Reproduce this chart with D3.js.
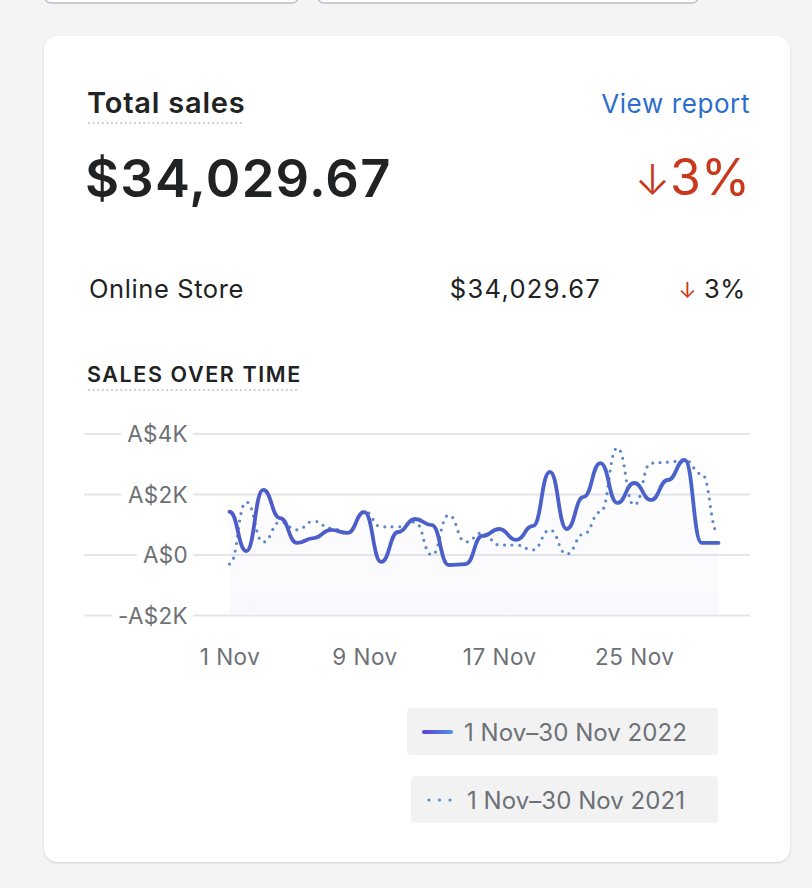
<!DOCTYPE html>
<html>
<head>
<meta charset="utf-8">
<script src="https://cdn.jsdelivr.net/npm/d3@7/dist/d3.min.js"></script>
<style>
  html, body { margin: 0; padding: 0; background: #f4f4f4; }
  svg { display: block; }
  text { font-family: "Inter", "Noto Sans", "DejaVu Sans", sans-serif; }
</style>
</head>
<body>
<svg id="chart" width="812" height="888"></svg>
<script>
// ---- Data ----
const days = [1,2,3,4,5,6,7,8,9,10,11,12,13,14,15,16,17,18,19,20,21,22,23,24,25,26,27,28,29,30];
const sales2022 = [1430,130,2150,1220,400,560,830,730,1420,-230,760,1190,990,-330,-300,630,860,500,960,2750,860,1920,3040,1720,2380,1820,2480,3140,400,400];
const sales2021 = [-300,1750,430,1090,830,1120,890,730,1450,930,930,1090,0,1320,430,730,330,330,170,830,30,690,1420,3540,1650,3040,3070,3140,2680,700];
const yTicks = [-2000, 0, 2000, 4000];
const yTickLabels = ["-A$2K", "A$0", "A$2K", "A$4K"];
const xTicks = [1, 9, 17, 25];
const xTickLabels = ["1 Nov", "9 Nov", "17 Nov", "25 Nov"];
const seriesNames = ["1 Nov\u201330 Nov 2022", "1 Nov\u201330 Nov 2021"];
const title = "Total sales";
const totalValue = "$34,029.67";
const changePct = "3%";
const channel = "Online Store";
const channelValue = "$34,029.67";
const chartTitle = "SALES OVER TIME";

const svg = d3.select("#chart");
const defs = svg.append("defs");

// shadow filter
const f = defs.append("filter").attr("id","shadow").attr("x","-5%").attr("y","-5%").attr("width","110%").attr("height","110%");
f.append("feDropShadow").attr("dx",0).attr("dy",1).attr("stdDeviation",1.2).attr("flood-color","#000").attr("flood-opacity",0.16);

// background top cards (partially visible)
svg.append("rect").attr("x",45).attr("y",-20).attr("width",253).attr("height",23).attr("rx",6)
  .attr("fill","#fff").attr("stroke","#b9bec4").attr("stroke-width",1.5);
svg.append("rect").attr("x",318).attr("y",-20).attr("width",380).attr("height",23).attr("rx",6)
  .attr("fill","#fff").attr("stroke","#b9bec4").attr("stroke-width",1.5);

// main card
svg.append("rect").attr("x",44).attr("y",36).attr("width",746).attr("height",826).attr("rx",14)
  .attr("fill","#fff").attr("filter","url(#shadow)");

const dark = "#202223", subdued = "#6d7175", red = "#c9381c", blue = "#2c6ecb";

// header
svg.append("text").attr("x",87).attr("y",113).attr("font-size",29).attr("font-weight",600)
  .attr("letter-spacing",0.8).attr("fill",dark).text(title);
svg.append("line").attr("x1",89).attr("x2",245).attr("y1",123).attr("y2",123)
  .attr("stroke","#c4c8cc").attr("stroke-width",2.2).attr("stroke-linecap","round").attr("stroke-dasharray","0 4.6");
svg.append("text").attr("x",750).attr("y",113).attr("text-anchor","end").attr("font-size",26)
  .attr("letter-spacing",0.6).attr("fill",blue).text("View report");

svg.append("text").attr("x",85).attr("y",197).attr("font-size",52.5).attr("font-weight",600)
  .attr("letter-spacing",1.2).attr("fill",dark).text(totalValue);
const big = svg.append("text").attr("x",750).attr("y",195).attr("text-anchor","end").attr("fill",red);
big.append("tspan").attr("font-size",42).attr("font-weight",300).text("\u2193");
big.append("tspan").attr("font-size",50).attr("font-weight",400).text(changePct);

// channel row
svg.append("text").attr("x",89).attr("y",298).attr("font-size",25.5).attr("letter-spacing",0.6).attr("fill",dark).text(channel);
svg.append("text").attr("x",601).attr("y",298).attr("text-anchor","end").attr("font-size",25.5).attr("letter-spacing",1.3).attr("fill",dark).text(channelValue);
const small = svg.append("text").attr("x",746).attr("y",298).attr("text-anchor","end").attr("font-size",25.5).attr("letter-spacing",0.6);
small.append("tspan").attr("fill",red).attr("font-size",22).text("\u2193  ");
small.append("tspan").attr("fill",dark).text(changePct);

// chart title
svg.append("text").attr("x",87).attr("y",382).attr("font-size",21.5).attr("font-weight",600)
  .attr("letter-spacing",1.6).attr("fill",dark).text(chartTitle);
svg.append("line").attr("x1",89).attr("x2",299).attr("y1",390).attr("y2",390)
  .attr("stroke","#c4c8cc").attr("stroke-width",2.2).attr("stroke-linecap","round").attr("stroke-dasharray","0 4.6");

// ---- scales ----
const x = d3.scaleLinear().domain([1,30]).range([229.5, 718.5]);
const y = d3.scaleLinear().domain([-2000,4000]).range([615.5, 434]);

// gridlines
const grid = svg.append("g");
grid.selectAll("line").data(yTicks).join("line")
  .attr("x1",84).attr("x2",750).attr("y1",d=>y(d)).attr("y2",d=>y(d))
  .attr("stroke","#e6e6e8").attr("stroke-width",2);

// area gradient
const ag = defs.append("linearGradient").attr("id","areaGrad").attr("gradientUnits","userSpaceOnUse")
  .attr("x1",0).attr("x2",0).attr("y1",y(4000)).attr("y2",y(-2000));
ag.append("stop").attr("offset","0%").attr("stop-color","#6a6fdc").attr("stop-opacity",0.015);
ag.append("stop").attr("offset","85%").attr("stop-color","#6a6fdc").attr("stop-opacity",0.03);
ag.append("stop").attr("offset","100%").attr("stop-color","#6a6fdc").attr("stop-opacity",0.06);

const pts2022 = days.map((d,i)=>({d, v: sales2022[i]}));
const pts2021 = days.map((d,i)=>({d, v: sales2021[i]}));

const area = d3.area().x(p=>x(p.d)).y0(y(-2000)-2).y1(p=>y(p.v)).curve(d3.curveBumpX);
svg.append("path").datum(pts2022).attr("d",area).attr("fill","url(#areaGrad)");

// y axis labels
const yAxis = d3.axisLeft(y).tickValues(yTicks).tickSize(0).tickPadding(0)
  .tickFormat(d=>yTickLabels[yTicks.indexOf(d)]);
const yg = svg.append("g").attr("transform","translate(188,0)").call(yAxis);
yg.select(".domain").remove();
yg.selectAll("text").attr("font-size",22.5).attr("letter-spacing",0.3).attr("fill",subdued).attr("font-family",null).attr("dy","0.35em");
yg.selectAll(".tick").each(function(){
  const t = d3.select(this).select("text");
  const bb = t.node().getBBox();
  d3.select(this).insert("rect","text").attr("x",bb.x-6).attr("y",bb.y).attr("width",bb.width+11).attr("height",bb.height).attr("fill","#fff");
});

// x axis labels
const xAxis = d3.axisBottom(x).tickValues(xTicks).tickSize(0).tickPadding(0)
  .tickFormat(d=>xTickLabels[xTicks.indexOf(d)]);
const xg = svg.append("g").attr("transform","translate(0,649)").call(xAxis);
xg.select(".domain").remove();
xg.selectAll("text").attr("font-size",22.5).attr("letter-spacing",0.5).attr("fill",subdued).attr("font-family",null).attr("dy","0.7em");

// lines
const line = d3.line().x(p=>x(p.d)).y(p=>y(p.v)).curve(d3.curveBumpX);
svg.append("path").datum(pts2021).attr("d",line).attr("fill","none")
  .attr("stroke","#5d88cc").attr("stroke-width",3.2).attr("stroke-linecap","round").attr("stroke-dasharray","0 7.5");
const lg = defs.append("linearGradient").attr("id","lineGrad").attr("gradientUnits","userSpaceOnUse")
  .attr("x1",x(1)).attr("x2",x(30)).attr("y1",0).attr("y2",0);
lg.append("stop").attr("offset","0%").attr("stop-color","#4e5bc9");
lg.append("stop").attr("offset","100%").attr("stop-color","#4a64c8");
svg.append("path").datum(pts2022).attr("d",line).attr("fill","none")
  .attr("stroke","url(#lineGrad)").attr("stroke-width",3.8).attr("stroke-linecap","round").attr("stroke-linejoin","round");

// legend
const legGrad = defs.append("linearGradient").attr("id","legGrad").attr("gradientUnits","userSpaceOnUse")
  .attr("x1",424).attr("x2",451).attr("y1",0).attr("y2",0);
legGrad.append("stop").attr("offset","0%").attr("stop-color","#5b45d8");
legGrad.append("stop").attr("offset","100%").attr("stop-color","#4f8de0");

const legend = [
  {name: seriesNames[0], bx:407, by:708, bw:311, bh:47, dotted:false},
  {name: seriesNames[1], bx:411, by:776, bw:307, bh:47, dotted:true}
];
const lgG = svg.append("g").selectAll("g").data(legend).join("g");
lgG.append("rect").attr("x",d=>d.bx).attr("y",d=>d.by).attr("width",d=>d.bw).attr("height",d=>d.bh)
  .attr("rx",4).attr("fill","#f2f2f3");
lgG.append("line").attr("x1",d=>d.dotted?429:424).attr("x2",451)
  .attr("y1",d=>d.by+24).attr("y2",d=>d.by+24)
  .attr("stroke",d=>d.dotted?"#5d88cc":"url(#legGrad)")
  .attr("stroke-width",d=>d.dotted?3.2:4)
  .attr("stroke-linecap","round")
  .attr("stroke-dasharray",d=>d.dotted?"0 10.5":null);
lgG.append("text").attr("x",d=>d.dotted?467:464).attr("y",d=>d.by+33)
  .attr("font-size",24).attr("letter-spacing",0.05).attr("fill",subdued).text(d=>d.name);
</script>
</body>
</html>
